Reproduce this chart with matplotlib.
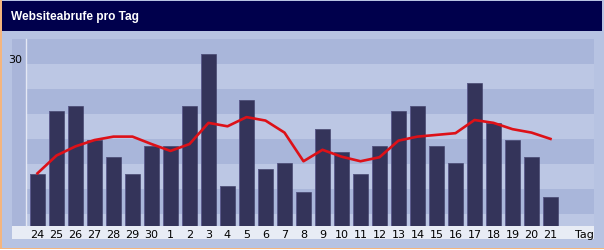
import matplotlib.pyplot as plt
from matplotlib.patches import Rectangle

W, H = 604, 251

days = ['24', '25', '26', '27', '28', '29', '30', '1', '2', '3', '4', '5', '6', '7',
        '8', '9', '10', '11', '12', '13', '14', '15', '16', '17', '18', '19', '20', '21']
hits = [9, 20, 21, 15, 12, 9, 14, 14, 21, 30, 7, 22, 10, 11,
        6, 17, 13, 9, 14, 20, 21, 14, 11, 25, 18, 15, 12, 5]
trend = [9.2, 12.3, 13.9, 15.0, 15.6, 15.6, 14.3, 13.1, 14.3, 18.0, 17.4, 19.0, 18.4, 16.3,
         11.3, 13.3, 12.1, 11.3, 12.0, 14.9, 15.6, 15.9, 16.2, 18.5, 18.0, 16.9, 16.3, 15.2]
title = 'Websiteabrufe pro Tag'
unit_label = 'Tag'


def px(x0, y0, x1, y1):
    # pixel box (top-down) -> figure fraction [left, bottom, width, height]
    return [x0 / W, 1 - y1 / H, (x1 - x0) / W, (y1 - y0) / H]


fig = plt.figure(figsize=(W / 100, H / 100), dpi=100, facecolor='white')

def box(x0, y0, x1, y1, color):
    l, b, w, h = px(x0, y0, x1, y1)
    fig.patches.append(Rectangle((l, b), w, h, transform=fig.transFigure,
                                 facecolor=color, edgecolor='none', zorder=-10))

# frame, title bar, panel
box(0, 0, 604, 250, '#f4b57e')
box(1.5, 1, 604, 248.5, '#b7c3e2')
box(2, 2, 602, 32, '#00004c')
box(12, 40, 26, 227, '#a9b5d9')
box(12, 227, 594, 240, '#e8ecf5')
fig.text(11 / W, 1 - 17 / H, title, color='white', fontsize=8.6, fontweight='bold',
         family='Liberation Sans', va='center', ha='left')

ax = fig.add_axes(px(26, 40, 594, 227))
ax.set_zorder(1)
ax.set_facecolor('#bcc7e4')
# decorative bands, 25 px each from the top
top, bottom = 40, 227
for i in range(0, 8, 2):
    y0 = top + 25 * i
    y1 = min(y0 + 25, bottom)
    ax.add_patch(Rectangle((0, 1 - (y1 - top) / (bottom - top)), 1, (y1 - y0) / (bottom - top),
                           transform=ax.transAxes, facecolor='#a9b6da', edgecolor='none', zorder=0))

x = list(range(len(days)))
ax.bar(x, hits, width=0.84, color='#34345a', edgecolor='#3c3c66', linewidth=0.4, zorder=2)
ax.bar([i - 0.42 for i in x], hits, width=0.09, align='edge', color='#5d5d8e', zorder=3)
ax.plot(x, trend, color='#dd1118', linewidth=1.9, solid_joinstyle='round', zorder=4)

ax.set_xlim(-0.605, 29.29)
ax.set_ylim(0, 187 / 5.73)
ax.set_xticks(x + [28.8])
ax.set_xticklabels(days + [unit_label], fontsize=8, family='DejaVu Sans')
ax.set_yticks([30])
ax.set_yticklabels(['30'], fontsize=8, family='DejaVu Sans', va='top')
ax.tick_params(axis='x', length=0, pad=2.5)
ax.tick_params(axis='y', length=0, pad=3)
for s in ['top', 'right', 'bottom']:
    ax.spines[s].set_visible(False)
ax.spines['left'].set_color('#e4e8f4')
ax.spines['left'].set_linewidth(1)

fig.savefig('out.png', dpi=100)
